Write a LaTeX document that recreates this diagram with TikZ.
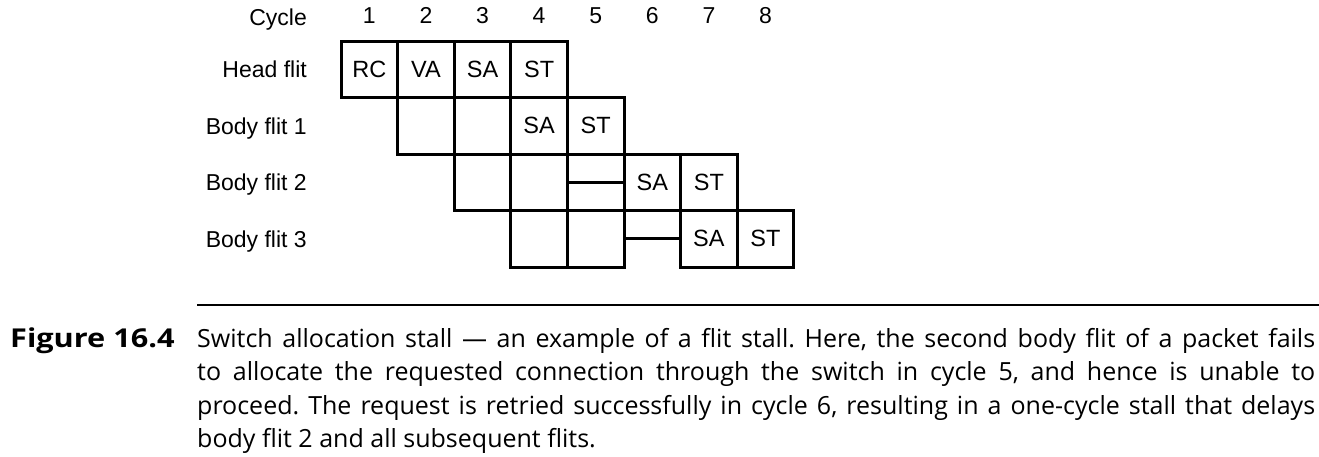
\documentclass[tikz,border=0pt]{standalone}
\usepackage{fontspec}
\setmainfont{Liberation Sans}
\newfontfamily\capfont{Open Sans}
\newfontfamily\figfont[FakeStretch=1.18]{Open Sans}
\begin{document}
\frenchspacing
\begin{tikzpicture}[x=1pt,y=-1pt,
  cell/.style={draw, line width=3pt, minimum width=56.6pt, minimum height=56.5pt, inner sep=0pt, font=\fontsize{23.5}{26}\selectfont},
  lbl/.style={anchor=base east, inner sep=0pt, font=\fontsize{23}{26}\selectfont},
  num/.style={anchor=base, inner sep=0pt, font=\fontsize{23}{26}\selectfont},
  stall/.style={line width=3pt}]
\useasboundingbox (0,0) rectangle (1319,456);
% header
\node[lbl] (cyc) at (307,25) {Cycle};
\foreach \i in {1,...,8} {
  \node[num] (n\i) at ({341+56.6*(\i-0.5)},23) {\i};
}
% row labels
\node[lbl] (l1) at (307,77.5) {Head flit};
\node[lbl] (l2) at (307,134) {Body flit 1};
\node[lbl] (l3) at (307,190.5) {Body flit 2};
\node[lbl] (l4) at (307,247) {Body flit 3};
% head flit
\node[cell] (r1c1) at (369.3,69.25) {RC};
\node[cell] (r1c2) at (425.9,69.25) {VA};
\node[cell] (r1c3) at (482.5,69.25) {SA};
\node[cell] (r1c4) at (539.1,69.25) {ST};
% body flit 1
\node[cell] (r2c2) at (425.9,125.75) {};
\node[cell] (r2c3) at (482.5,125.75) {};
\node[cell] (r2c4) at (539.1,125.75) {SA};
\node[cell] (r2c5) at (595.7,125.75) {ST};
% body flit 2
\node[cell] (r3c3) at (482.5,182.25) {};
\node[cell] (r3c4) at (539.1,182.25) {};
\node[cell] (r3c6) at (652.3,182.25) {SA};
\node[cell] (r3c7) at (708.9,182.25) {ST};
\draw[stall] (r3c4.east) -- (r3c6.west);
% body flit 3
\node[cell] (r4c4) at (539.1,238.75) {};
\node[cell] (r4c5) at (595.7,238.75) {};
\node[cell] (r4c7) at (708.9,238.75) {SA};
\node[cell] (r4c8) at (765.5,238.75) {ST};
\draw[stall] (r4c5.east) -- (r4c7.west);
% caption
\draw[line width=1.8pt] (197,305) -- (1319,305);
\node[anchor=base west, inner sep=0pt, font=\figfont\bfseries\fontsize{26}{33.5}\selectfont] (fig) at (10,347) {Figure 16.4};
\node[anchor=base west, inner sep=0pt, font=\capfont\fontsize{25}{33.5}\selectfont] (cap) at (197,347) {\parbox[t]{1118pt}{Switch allocation stall — an example of a flit stall. Here, the second body flit of a packet fails\linebreak to allocate the requested connection through the switch in cycle 5, and hence is unable to\linebreak proceed. The request is retried successfully in cycle 6, resulting in a one-cycle stall that delays\linebreak body flit 2 and all subsequent flits.}};
\end{tikzpicture}
\end{document}
